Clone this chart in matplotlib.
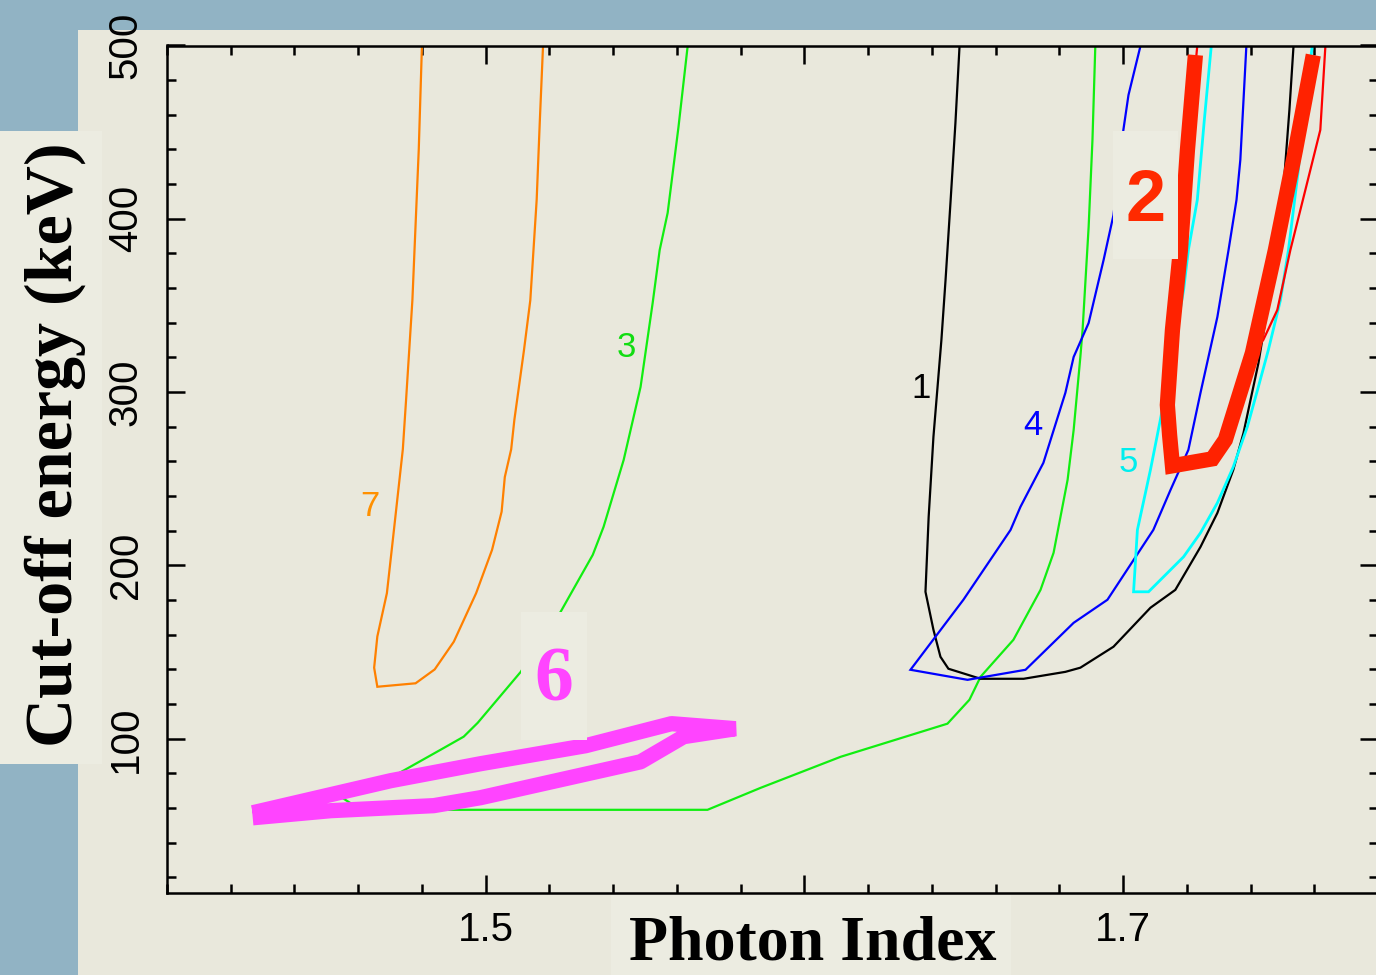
import numpy as np
import matplotlib.pyplot as plt
from matplotlib.patches import Rectangle
from matplotlib.ticker import MultipleLocator

# Контуры (photon index, cut-off energy keV)
x1 = [1.6487, 1.6474, 1.6459, 1.6443, 1.6430, 1.6405, 1.6390, 1.6380, 1.6405, 1.6427,
      1.6452, 1.6553, 1.6688, 1.6819, 1.6866, 1.6970, 1.7086, 1.7164, 1.7243, 1.7296,
      1.7346, 1.7378, 1.7400, 1.7425, 1.7447, 1.7478, 1.7503, 1.7522, 1.7535]
y1 = [500, 455.3, 410.9, 364.7, 330.1, 274.2, 228.0, 184.8, 162.9, 147.3,
      140.4, 134.6, 134.6, 138.6, 141.0, 153.1, 175.6, 185.9, 210.7, 230.3,
      255.2, 276.5, 295.5, 316.9, 341.7, 376.3, 416.6, 462.8, 500]

x2 = [1.7227, 1.7202, 1.7180, 1.7155, 1.7139, 1.7146, 1.7155, 1.7280, 1.7321, 1.7406,
      1.7478, 1.7541, 1.7597]
y2 = [494.5, 439.7, 382.0, 335.9, 292.6, 275.3, 257.5, 261.5, 272.5, 322.6,
      382.0, 439.7, 494.5]

x2_thin = [1.7233, 1.7202, 1.7180, 1.7155, 1.7139, 1.7146, 1.7155, 1.7280, 1.7321, 1.7406,
           1.7440, 1.7484, 1.7525, 1.7572, 1.7619, 1.7635]
y2_thin = [500, 439.7, 382.0, 335.9, 292.6, 275.3, 257.5, 261.5, 272.5, 322.6,
           330.1, 347.4, 382.0, 416.6, 451.3, 500]

x3 = [1.5634, 1.5605, 1.5571, 1.5546, 1.5524, 1.5486, 1.5433, 1.5370, 1.5336, 1.5235,
      1.5110, 1.4975, 1.4931, 1.4859, 1.4708, 1.4545, 1.4608, 1.5696, 1.5863, 1.6114,
      1.6449, 1.6518, 1.6553, 1.6656, 1.6741, 1.6782, 1.6826, 1.6845, 1.6866, 1.6873,
      1.6892, 1.6904, 1.6913]
y3 = [500, 453.0, 403.4, 382.0, 351.5, 303.0, 260.9, 222.3, 206.1, 173.2,
      138.6, 109.2, 101.2, 93.7, 78.1, 66.5, 59.0, 59.0, 71.7, 89.6,
      108.7, 122.5, 135.8, 157.1, 185.9, 207.3, 249.4, 278.2, 320.3, 335.9,
      395.3, 445.5, 500]

x4 = [1.7055, 1.7017, 1.7001, 1.6970, 1.6939, 1.6892, 1.6845, 1.6819, 1.6750, 1.6678,
      1.6647, 1.6499, 1.6333, 1.6512, 1.6694, 1.6845, 1.6951, 1.7095, 1.7149, 1.7205,
      1.7243, 1.7296, 1.7331, 1.7356, 1.7368, 1.7378, 1.7387]
y4 = [500, 471.4, 451.3, 402.2, 376.3, 339.9, 320.3, 299.6, 259.2, 233.8,
      220.5, 180.2, 139.8, 134.0, 139.8, 166.9, 180.2, 220.5, 243.6, 266.7,
      299.6, 343.4, 382.0, 410.9, 434.0, 468.6, 500]

x5 = [1.7277, 1.7255, 1.7233, 1.7205, 1.7190, 1.7158, 1.7117, 1.7086, 1.7045, 1.7033,
      1.7080, 1.7190, 1.7243, 1.7296, 1.7346, 1.7390, 1.7422, 1.7456, 1.7494, 1.7519,
      1.7550, 1.7572, 1.7594]
y5 = [500, 457.0, 410.9, 382.0, 359.0, 324.4, 284.0, 255.2, 220.5, 184.8,
      184.8, 205.0, 218.8, 236.1, 256.9, 280.0, 301.3, 324.4, 353.2, 382.0,
      428.2, 468.6, 500]

x6 = [1.4269, 1.4702, 1.4984, 1.5314, 1.5583, 1.5784, 1.5621, 1.5486, 1.4984, 1.4837,
      1.4514, 1.4269]
y6 = [57.3, 75.8, 85.6, 96.0, 108.7, 105.8, 101.2, 86.7, 66.0, 61.4,
      58.5, 54.4]

x7 = [1.480, 1.479, 1.477, 1.475, 1.474, 1.471, 1.469, 1.466, 1.465, 1.466,
      1.478, 1.484, 1.490, 1.497, 1.502, 1.505, 1.506, 1.508, 1.509, 1.512,
      1.514, 1.516, 1.517, 1.518]
y7 = [500, 440, 353, 295, 267, 217, 184, 159, 141, 130,
      132, 140, 156, 184, 209, 231, 251, 267, 284, 324,
      353, 411, 457, 500]

W, H = 1376, 975
paper = "#e9e8dc"
border = "#91b3c4"
boxc = "#ecece1"

fig = plt.figure(figsize=(W / 100, H / 100), dpi=100)
fig.patch.set_facecolor(border)

# бумажный лист поверх голубой рамки
fig.add_artist(Rectangle((78 / W, 0), 1, 1 - 30 / H, transform=fig.transFigure,
                         facecolor=paper, edgecolor="none", zorder=-10))

ax = fig.add_axes([167 / W, 1 - 893 / H, (1378 - 167) / W, (893 - 45.5) / H])
ax.set_facecolor("none")

thin = dict(lw=1.6, solid_joinstyle="miter")
ax.plot(x7, y7, color="#ff8000", **thin)
ax.plot(x3, y3, color="#11ee11", **thin)
ax.plot(x1, y1, color="black", **thin)
ax.plot(x4, y4, color="#0000ff", **thin)
ax.plot(x5, y5, color="#00ffff", lw=2.0, solid_joinstyle="miter")
ax.plot(x2_thin, y2_thin, color="#ff0000", **thin)
ax.plot(x2, y2, color="#ff2200", lw=11, solid_joinstyle="miter", solid_capstyle="butt")
ax.plot(x6, y6, color="#ff44ff", lw=11, solid_joinstyle="bevel", solid_capstyle="butt")

ax.set_xlim(1.40, 1.78)
ax.set_ylim(11, 500)

ax.xaxis.set_major_locator(MultipleLocator(0.1))
ax.xaxis.set_minor_locator(MultipleLocator(0.02))
ax.yaxis.set_major_locator(MultipleLocator(100))
ax.yaxis.set_minor_locator(MultipleLocator(20))
ax.set_xticks([1.5, 1.6, 1.7])
# подпись 1.6 закрыта плашкой «Photon Index»
ax.set_xticklabels(["1.5", "", "1.7"])
ax.set_yticks([100, 200, 300, 400, 500])

ax.tick_params(which="both", direction="in", top=True, right=True, width=1.8, color="black")
ax.tick_params(which="major", length=13)
ax.tick_params(which="minor", length=6.5)
ax.tick_params(axis="x", labelsize=29, pad=13)
ax.tick_params(axis="y", labelsize=29, pad=16, labelrotation=90)
for lab in ax.get_yticklabels():
    lab.set_verticalalignment("center")
for lab in ax.get_xticklabels() + ax.get_yticklabels():
    lab.set_fontfamily("Liberation Sans")
for sp in ax.spines.values():
    sp.set_linewidth(1.8)

# подписи контуров
small = dict(fontsize=25, family="Liberation Sans", ha="center", va="center")
ax.text(1.4636, 233.8, "7", color="#ff9000", **small)
ax.text(1.5442, 325.5, "3", color="#11dd11", **small)
ax.text(1.6365, 301.9, "1", color="black", **small)
ax.text(1.6716, 280.5, "4", color="#0000ff", **small)
ax.text(1.7017, 259.2, "5", color="#00eeee", **small)

ax.add_patch(Rectangle((1.6967, 376.8), 0.0204, 73.9, facecolor=boxc, edgecolor="none",
                       zorder=10, clip_on=False))
ax.text(1.7070, 409.7, "2", color="#ff2a00", fontsize=52, family="Liberation Sans",
        fontweight="bold", ha="center", va="center", zorder=11)
ax.add_patch(Rectangle((1.5110, 99.4), 0.0207, 73.8, facecolor=boxc, edgecolor="none",
                       zorder=10, clip_on=False))
ax.text(1.5213, 132.9, "6", color="#ff44ff", fontsize=56, family="Liberation Serif",
        fontweight="bold", ha="center", va="center", zorder=11)

# подписи осей на светлых плашках
fig.add_artist(Rectangle((0, 1 - 764 / H), 102 / W, (764 - 131) / H, transform=fig.transFigure,
                         facecolor=boxc, edgecolor="none", zorder=5))
fig.add_artist(Rectangle((611 / W, 0), (1011 - 611) / W, (975 - 895) / H,
                         transform=fig.transFigure, facecolor=boxc, edgecolor="none", zorder=5))
fig.text(55 / W, 1 - 445 / H, "Cut-off energy (keV)", rotation=90, fontsize=49,
         family="Liberation Serif", fontweight="bold", ha="center", va="center", zorder=6)
fig.text(813 / W, 1 - 944 / H, "Photon Index", fontsize=46,
         family="Liberation Serif", fontweight="bold", ha="center", va="center", zorder=6)

plt.savefig("out.png", dpi=100, facecolor=fig.get_facecolor())
